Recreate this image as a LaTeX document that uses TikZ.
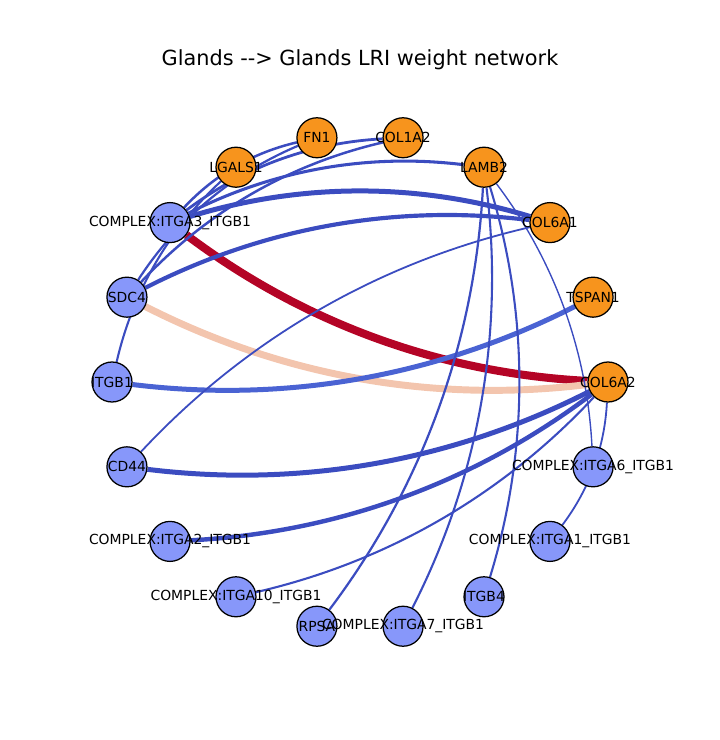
\documentclass[tikz,border=0pt]{standalone}
\usepackage{fontspec}
\setmainfont{DejaVu Sans}
\usetikzlibrary{backgrounds}
\definecolor{ligc}{HTML}{F7941D}
\definecolor{recc}{HTML}{8797FA}
\definecolor{wblue}{HTML}{3B4CC0}
\definecolor{wmid}{HTML}{4A63D3}
\definecolor{wpeach}{HTML}{F3C5AE}
\definecolor{wred}{HTML}{B40426}
\tikzset{
  gene/.style={circle,draw=black,line width=0.9pt,minimum size=28.8pt,inner sep=0pt,
    label={[font=\fontsize{10}{12}\selectfont,inner sep=0pt]center:#1}},
  lig/.style={gene=#1,fill=ligc},
  rec/.style={gene=#1,fill=recc},
  inb/.style={bend left=17,looseness=0.88},
  outb/.style={bend right=17,looseness=0.88}
}

\begin{document}
\begin{tikzpicture}[x=0.72pt,y=0.72pt]
\useasboundingbox (-360,-358) rectangle (360,382);
\node[font=\fontsize{15}{18}\selectfont] (ttl) at (0,322) {Glands \mbox{-}\mbox{-}> Glands LRI weight network};
\foreach \nm/\ang/\st/\lab in {c6a2/0/lig/COL6A2, tsp1/20/lig/TSPAN1, c6a1/40/lig/COL6A1,
  lmb2/60/lig/LAMB2, c1a2/80/lig/COL1A2, fn1/100/lig/FN1, lgl1/120/lig/LGALS1,
  ita3/140/rec/{COMPLEX:ITGA3\_ITGB1}, sdc4/160/rec/SDC4, itb1/180/rec/ITGB1,
  cd44/200/rec/CD44, ita2/220/rec/{COMPLEX:ITGA2\_ITGB1}, ita10/240/rec/{COMPLEX:ITGA10\_ITGB1},
  rpsa/260/rec/RPSA, ita7/280/rec/{COMPLEX:ITGA7\_ITGB1}, itb4/300/rec/ITGB4,
  ita1/320/rec/{COMPLEX:ITGA1\_ITGB1}, ita6/340/rec/{COMPLEX:ITGA6\_ITGB1}}
  \node[\st={\lab}] (\nm) at (\ang:248) {};
\begin{scope}[on background layer]
\draw[inb,wred,line width=5.8pt] (c6a2) to (ita3);
\draw[inb,wpeach,line width=5pt] (c6a2) to (sdc4);
\draw[inb,wmid,line width=3.6pt] (tsp1) to (itb1);
\foreach \a/\b/\w in {cd44/c6a2/3.6, ita2/c6a2/3.2, ita10/c6a2/1.5, ita1/c6a2/1.3,
  ita6/lmb2/1, rpsa/lmb2/1.6, ita7/lmb2/1.5, itb4/lmb2/1.5,
  c6a1/cd44/1.3, c6a1/ita3/3.6, c6a1/sdc4/3, lmb2/ita3/2.2,
  c1a2/ita3/2, c1a2/sdc4/1.8, fn1/ita3/1.8, fn1/sdc4/1.6, lgl1/itb1/1.5}
  \draw[outb,wblue,line width=\w pt] (\a) to (\b);
\end{scope}
\end{tikzpicture}
\end{document}
